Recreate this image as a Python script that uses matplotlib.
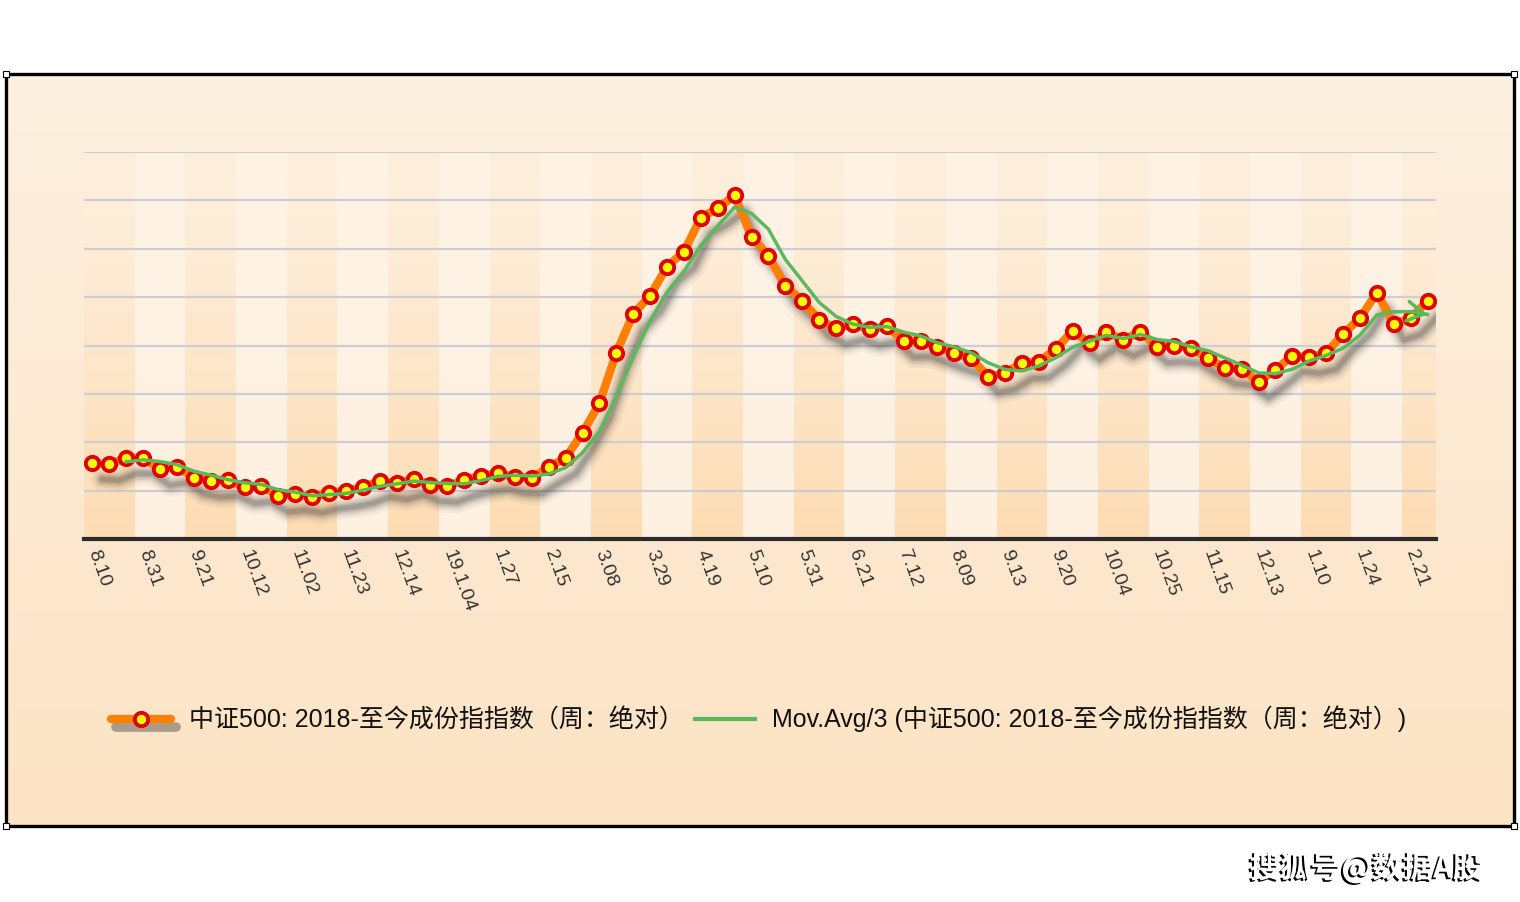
import numpy as np
import pandas as pd
import matplotlib
matplotlib.use('Agg')
import matplotlib.pyplot as plt
import matplotlib.transforms as mtransforms
import matplotlib.patheffects as pe
import matplotlib.colors as mcolors
from matplotlib.patches import Rectangle
from matplotlib.lines import Line2D
from matplotlib.legend_handler import HandlerTuple
from matplotlib.font_manager import FontProperties

# ---------------- data ----------------
tick_labels = ['8.10', '8.31', '9.21', '10.12', '11.02', '11.23', '12.14', '19.1.04',
               '1.27', '2.15', '3.08', '3.29', '4.19', '5.10', '5.31', '6.21', '7.12',
               '8.09', '9.13', '9.20', '10.04', '10.25', '11.15', '12.13', '1.10',
               '1.24', '2.21']

values = [156.5, 154.4, 168.1, 168.1, 144.1, 149.5, 126.7, 119.9, 122.0, 106.9,
          109.6, 88.9, 92.4, 87.4, 95.7, 99.8, 106.9, 119.9, 115.1, 124.0,
          111.0, 109.6, 122.0, 130.9, 135.8, 128.2, 126.7, 148.2, 168.1, 219.1,
          280.5, 385.1, 465.1, 503.0, 562.9, 593.9, 664.2, 683.6, 710.5, 624.9,
          585.6, 523.0, 492.0, 452.7, 435.6, 443.8, 433.5, 440.3, 409.3, 409.9,
          397.5, 383.9, 373.5, 335.5, 342.5, 364.5, 366.5, 392.8, 430.0, 404.6,
          427.9, 411.4, 428.5, 397.5, 399.0, 395.5, 373.5, 354.1, 350.8, 325.2,
          349.4, 378.9, 375.6, 383.9, 423.8, 456.2, 509.2, 444.4, 456.2, 492.0]

series_name = '中证500: 2018-至今成份指指数（周：绝对）'
ma_name = 'Mov.Avg/3 (' + series_name + ')'
watermark = '搜狐号@数据A股'

# ---------------- styles ----------------
W, H, DPI = 1520, 902, 100
ORANGE = '#FF7F00'
RED = '#E00000'
YELLOW = '#FFFF00'
GREEN = '#5CB85C'
MIX = ['Liberation Sans', 'Noto Sans CJK SC', 'DejaVu Sans']
MS, MEW = 9.6, 2.8

x = np.arange(len(values))
ma = pd.Series(values).rolling(3).mean().to_numpy()

fig = plt.figure(figsize=(W / DPI, H / DPI), dpi=DPI, facecolor='white')


def fx(px):
    return px / W


def fy(py):
    return 1 - py / H


# background of the framed panel (vertical gradient)
bg = fig.add_axes([fx(6), fy(826), fx(1514) - fx(6), fy(74) - fy(826)], zorder=-2)
t = np.linspace(0, 1, 256)[:, None, None]
ctop = np.array(mcolors.to_rgb('#FDF0E0'))
cbot = np.array(mcolors.to_rgb('#FCE3C4'))
bg.imshow(ctop * (1 - t) + cbot * t, aspect='auto', extent=(0, 1, 0, 1), origin='upper')
bg.set_axis_off()

# main plot axes
ax = fig.add_axes([fx(84), fy(539), fx(1436) - fx(84), fy(152) - fy(539)])
ax.patch.set_alpha(0)

# alternating column bands with vertical gradient
nrow = 200
tt = np.linspace(0, 1, nrow) ** 1.3
dark_top = np.array(mcolors.to_rgb('#FDEFDD'))
dark_bot = np.array(mcolors.to_rgb('#FDDCB3'))
light_top = np.array(mcolors.to_rgb('#FEF3E6'))
light_bot = np.array(mcolors.to_rgb('#FEF1E1'))
bands = np.zeros((nrow, len(values), 3))
for c in range(len(values)):
    if (c // 3) % 2 == 0:
        col = dark_top * (1 - tt[:, None]) + dark_bot * tt[:, None]
    else:
        col = light_top * (1 - tt[:, None]) + light_bot * tt[:, None]
    bands[:, c, :] = col
ax.imshow(bands, extent=(-0.5, len(values) - 0.5, 0, 800), aspect='auto',
          interpolation='nearest', origin='upper', zorder=0)

ax.set_xlim(-0.5, len(values) - 0.5)
ax.set_ylim(0, 800)

# grid
ax.set_yticks(np.arange(100, 801, 100))
ax.set_axisbelow(True)
ax.yaxis.grid(True, color='#CDCDD3', lw=1.6)
ax.tick_params(axis='y', length=0, labelleft=False)
for s in ['left', 'right', 'top']:
    ax.spines[s].set_visible(False)
ax.spines['bottom'].set_color('#2B2B2B')
ax.spines['bottom'].set_linewidth(3)

# x ticks
ax.set_xticks(x[::3])
ax.set_xticklabels(tick_labels, rotation=-70, ha='left', va='center',
                   rotation_mode='anchor', fontsize=14, color='#333333',
                   family='Liberation Sans')
ax.tick_params(axis='x', length=0, pad=8)

# blurred drop shadow of main series
shadow_tr = mtransforms.offset_copy(ax.transData, fig=fig, x=10, y=-16, units='dots')
for lw, a in [(16, 0.05), (12, 0.07), (9, 0.10), (6, 0.14), (3.5, 0.16)]:
    ax.plot(x, values, color='#303030', lw=lw, alpha=a, transform=shadow_tr,
            solid_capstyle='round', solid_joinstyle='round', zorder=2)

ax.plot(x, values, color=ORANGE, lw=6, solid_joinstyle='round',
        solid_capstyle='round', zorder=3)
ax.plot(x, values, ls='none', marker='o', ms=MS, mfc=YELLOW, mec=RED, mew=MEW, zorder=4)
ax.plot(x, ma, color=GREEN, lw=2.5, zorder=5, solid_joinstyle='round')
ax.annotate('', xy=(x[-1], ma[-1]), xytext=(x[-2], ma[-2]),
            arrowprops=dict(arrowstyle='->,head_length=0.6,head_width=0.35',
                            color=GREEN, lw=2.5, shrinkA=0, shrinkB=0,
                            mutation_scale=20), zorder=6)

# legend
orange_proxy = Line2D([], [], color=ORANGE, lw=6, solid_capstyle='round',
                      path_effects=[pe.SimpleLineShadow(offset=(3, -6), shadow_color='#303030',
                                                        alpha=0.4, rho=1.0, linewidth=7),
                                    pe.Normal()])
marker_proxy = Line2D([], [], ls='none', marker='o', ms=MS, mfc=YELLOW, mec=RED, mew=MEW)
green_proxy = Line2D([], [], color=GREEN, lw=3)
leg = fig.legend(handles=[(orange_proxy, marker_proxy), green_proxy],
                 labels=[series_name, ma_name],
                 handler_map={tuple: HandlerTuple(ndivide=1)},
                 loc='center', bbox_to_anchor=(fx(759), fy(719)), ncol=2,
                 frameon=False, prop=FontProperties(family=MIX, size=18),
                 handlelength=2.4, handletextpad=0.7, columnspacing=0.45)
for txt in leg.get_texts():
    txt.set_color('#111111')

# frame and corner handles
fig.patches.append(Rectangle((fx(6), fy(826)), fx(1514) - fx(6), fy(74) - fy(826),
                             transform=fig.transFigure, fill=False, ec='black',
                             lw=2.4, zorder=5))
for cx, cy in [(6, 74), (1514, 74), (6, 826), (1514, 826)]:
    fig.patches.append(Rectangle((fx(cx - 3), fy(cy + 3)), 6 / W, 6 / H,
                                 transform=fig.transFigure, fc='white', ec='black',
                                 lw=0.8, zorder=6))

# watermark
fig.text(fx(1483), fy(868), watermark, ha='right', va='center', fontsize=22,
         fontweight='bold', color='white', family=['Noto Sans CJK SC', 'DejaVu Sans'],
         path_effects=[pe.withSimplePatchShadow(offset=(-1.5, -1.2),
                                                shadow_rgbFace='black', alpha=1.0)])

fig.savefig('out.png', dpi=DPI, facecolor='white')
